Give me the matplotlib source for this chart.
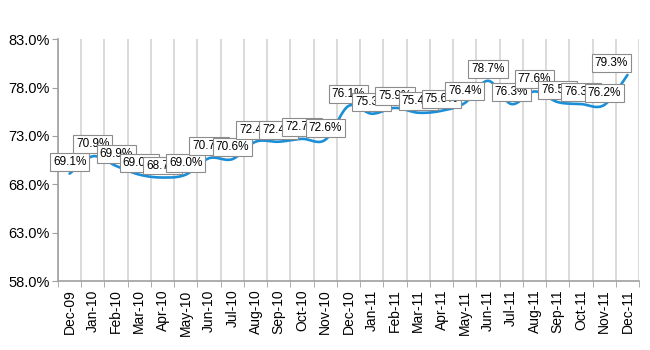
import numpy as np
import matplotlib
matplotlib.use("Agg")
import matplotlib.pyplot as plt
from matplotlib.ticker import FuncFormatter

# monthly values, Dec-09 .. Dec-11
months = ['Dec-09', 'Jan-10', 'Feb-10', 'Mar-10', 'Apr-10', 'May-10', 'Jun-10',
          'Jul-10', 'Aug-10', 'Sep-10', 'Oct-10', 'Nov-10', 'Dec-10', 'Jan-11',
          'Feb-11', 'Mar-11', 'Apr-11', 'May-11', 'Jun-11', 'Jul-11', 'Aug-11',
          'Sep-11', 'Oct-11', 'Nov-11', 'Dec-11']
values = [69.1, 70.9, 69.9, 69.0, 68.7, 69.0, 70.7, 70.6, 72.4, 72.4, 72.7,
          72.6, 76.1, 75.3, 75.9, 75.4, 75.6, 76.4, 78.7, 76.3, 77.6, 76.5,
          76.3, 76.2, 79.3]
y_ticks = [58.0, 63.0, 68.0, 73.0, 78.0, 83.0]

plt.rcParams['font.family'] = ['Liberation Sans', 'DejaVu Sans']


def smooth(x, y, n=20):
    # catmull-rom curve through the points, like excel's smoothed line
    x = np.asarray(x, float)
    y = np.asarray(y, float)
    px = np.concatenate([[x[0]], x, [x[-1]]])
    py = np.concatenate([[y[0]], y, [y[-1]]])
    xs, ys = [], []
    t = np.linspace(0, 1, n, endpoint=False)
    for i in range(1, len(px) - 2):
        for arr, out in ((px, xs), (py, ys)):
            p0, p1, p2, p3 = arr[i - 1], arr[i], arr[i + 1], arr[i + 2]
            out.extend(0.5 * ((2 * p1) + (-p0 + p2) * t
                              + (2 * p0 - 5 * p1 + 4 * p2 - p3) * t ** 2
                              + (-p0 + 3 * p1 - 3 * p2 + p3) * t ** 3))
    xs.append(x[-1])
    ys.append(y[-1])
    return np.array(xs), np.array(ys)


x = np.arange(len(months))

fig = plt.figure(figsize=(6.5, 3.5), dpi=100)
ax = fig.add_axes([0.0892, 0.197, 0.894, 0.691])

sx, sy = smooth(x, values)
ax.plot(sx, sy, color='#1b8ed8', lw=1.9, solid_capstyle='round', zorder=3)

for i, v in enumerate(values):
    dx = -16 if i == len(values) - 1 else 0
    ax.annotate(f'{v:.1f}%', (i, v), xytext=(dx, 12), textcoords='offset pixels',
                ha='center', va='center', fontsize=8.5, color='black', zorder=4 + i,
                bbox=dict(boxstyle='square,pad=0.25', fc='white', ec='#8c8c8c', lw=0.8))

ax.set_xlim(-0.5, len(months) - 0.5)
ax.set_ylim(58, 83)
ax.set_yticks(y_ticks)
ax.yaxis.set_major_formatter(FuncFormatter(lambda v, p: f'{v:.1f}%'))

ax.set_xticks(x)
ax.set_xticklabels(months, rotation=90)
ax.set_xticks(np.arange(len(months) + 1) - 0.5, minor=True)
ax.tick_params(axis='x', which='major', length=0, labelsize=10, pad=6)
ax.tick_params(axis='x', which='minor', length=4, color='#a0a0a0', direction='out')
ax.tick_params(axis='y', length=4, color='#a0a0a0', labelsize=10.5, pad=2)
ax.grid(axis='x', which='minor', color='#d4d4d4', lw=1.2)

for s in ['top', 'right']:
    ax.spines[s].set_visible(False)
for s in ['left', 'bottom']:
    ax.spines[s].set_color('#a0a0a0')
    ax.spines[s].set_linewidth(1.2)

fig.savefig('out.png', dpi=100)
